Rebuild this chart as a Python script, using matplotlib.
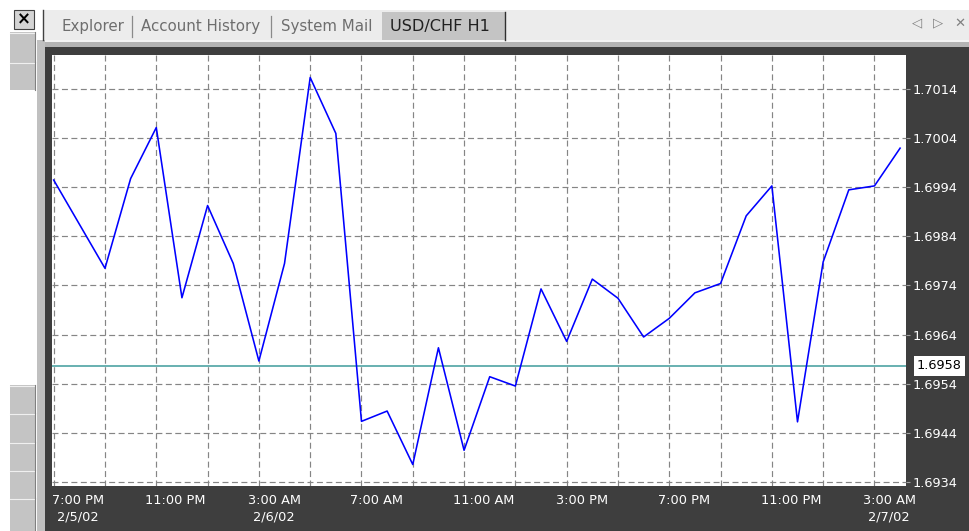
import numpy as np
import pandas as pd
import matplotlib
matplotlib.use("Agg")
import matplotlib.pyplot as plt
from matplotlib.patches import Rectangle
from matplotlib import transforms

plt.rcParams['font.family'] = ['DejaVu Sans']
plt.rcParams['lines.scale_dashes'] = False

# USD/CHF H1 closes, one per hour from 7:00 PM 2/5/02
start_time = "2002-02-05 19:00"
close = [1.69955, 1.69865, 1.69775, 1.69958, 1.70062, 1.69715, 1.69903,
         1.69785, 1.69586, 1.69785, 1.70164, 1.70050, 1.69463, 1.69484,
         1.69375, 1.69613, 1.69404, 1.69554, 1.69535, 1.69733, 1.69626,
         1.69753, 1.69714, 1.69635, 1.69673, 1.69725, 1.69744, 1.69882,
         1.69943, 1.69462, 1.69788, 1.69935, 1.69943, 1.70020]
current_price = 1.69576
price_levels = [1.6934, 1.6944, 1.6954, 1.6964, 1.6974, 1.6984, 1.6994, 1.7004, 1.7014]
tab_names = ["Explorer", "Account History", "System Mail"]
active_tab = "USD/CHF H1"

times = pd.date_range(start_time, periods=len(close), freq="h")
x = np.arange(len(close))

W, H = 969, 531
fig = plt.figure(figsize=(W / 100, H / 100), dpi=100, facecolor="white")

# window chrome in pixel coordinates
bg = fig.add_axes([0, 0, 1, 1])
bg.set_xlim(0, W)
bg.set_ylim(H, 0)
bg.axis("off")

def rect(x0, y0, w, h, fc, ec="none", lw=0.0, z=1):
    bg.add_patch(Rectangle((x0, y0), w, h, facecolor=fc, edgecolor=ec, linewidth=lw, zorder=z))

rect(43, 10, W - 43, 30, "#ECECEC")
rect(37, 40, W - 37, 2, "#F4F4F4")
rect(37, 42, W - 37, 5, "#B4B4B4")
rect(37, 40, 8, H - 40, "#C0C0C0")
rect(45, 47, W - 45, H - 47, "#3E3E3E")
bg.plot([43, 43], [10, 40], color="#404040", lw=1.0, zorder=2)

# left toolbar buttons
for y0, y1 in [(32, 62), (62, 90), (385, 413), (413, 442), (442, 470), (470, 498), (498, 531)]:
    rect(10, y0, 25, y1 - y0, "#C4C4C4", z=2)
    bg.plot([10, 35], [y0 + 0.5, y0 + 0.5], color="#F0F0F0", lw=0.8, zorder=3)
    bg.plot([35, 35], [y0, y1], color="#808080", lw=0.8, zorder=3)
rect(14, 10, 20, 19, "#D4D4D4", ec="#404040", lw=0.8, z=3)
bg.text(24, 19.5, "\u00D7", ha="center", va="center", fontsize=12, fontweight="bold", color="black", zorder=4)

# tabs
tab_x = [62, 141, 281]
for name, tx in zip(tab_names, tab_x):
    bg.text(tx, 27, name, ha="left", va="center", fontsize=10.8, color="#6E6E6E", zorder=3)
for sx in [132, 271]:
    bg.plot([sx, sx], [16, 37], color="#8A8A8A", lw=0.9, zorder=3)
rect(382, 12, 123, 28, "#C4C4C4", z=2)
bg.plot([505, 505], [12, 40], color="#303030", lw=1.0, zorder=3)
bg.text(390, 27, active_tab, ha="left", va="center", fontsize=11.6, color="#202020", zorder=3)
for gx, g in [(917, "\u25C1"), (938, "\u25B7"), (960, "\u2715")]:
    bg.text(gx, 23, g, ha="center", va="center", fontsize=9.5, color="#808080", zorder=3)

# chart area
left, right, top, bottom = 52, 906, 55, 486
ax = fig.add_axes([left / W, 1 - bottom / H, (right - left) / W, (bottom - top) / H], zorder=5)
ax.set_facecolor("white")
for s in ax.spines.values():
    s.set_visible(False)

ax.plot(x, close, color="#0000FF", lw=1.15, zorder=4)
ax.axhline(current_price, color="#3F9B9B", lw=1.1, zorder=3)

ax.set_xlim(-0.066, 33.23)
ax.set_ylim(1.693312, 1.702099)
ax.set_xticks(x[::2])
ax.set_yticks(price_levels)
ax.grid(True, color="#858585", linestyle=(0, (4.3, 2.5)), linewidth=0.85, zorder=1)
ax.yaxis.tick_right()
ax.set_yticklabels([f"{p:.4f}" for p in price_levels])
ax.tick_params(axis="y", right=True, left=False, direction="out", length=3, width=0.8,
               color="#A0A0A0", labelcolor="white", labelsize=9.3, pad=2)
ax.tick_params(axis="x", bottom=False, labelbottom=False)

# current price tag at the right edge
tag_tr = transforms.offset_copy(transforms.blended_transform_factory(ax.transAxes, ax.transData),
                                fig=fig, x=11 * 0.72, y=0, units="points")
ax.text(1.0, current_price, f"{current_price:.4f}", transform=tag_tr, ha="left", va="center",
        fontsize=9.3, color="black", clip_on=False,
        bbox=dict(boxstyle="square,pad=0.25", fc="white", ec="none"))

# time axis labels
blend = transforms.blended_transform_factory(ax.transData, ax.transAxes)
prev_date = None
for i in range(0, len(times), 4):
    t = times[i]
    dx = -1.7 if i == 0 else -11
    tr = transforms.offset_copy(blend, fig=fig, x=dx * 0.72, y=-15 * 0.72, units="points")
    lab = t.strftime("%I:%M %p").lstrip("0")
    ax.text(i, 0, lab, transform=tr, ha="left", va="center", fontsize=9.3, color="white", clip_on=False)
    d = t.date()
    if d != prev_date:
        tr2 = transforms.offset_copy(blend, fig=fig, x=(dx + 5) * 0.72, y=-31 * 0.72, units="points")
        ax.text(i, 0, f"{t.month}/{t.day}/{t.strftime('%y')}", transform=tr2, ha="left",
                va="center", fontsize=9.3, color="white", clip_on=False)
        prev_date = d

fig.savefig("out.png", dpi=100, facecolor=fig.get_facecolor())
